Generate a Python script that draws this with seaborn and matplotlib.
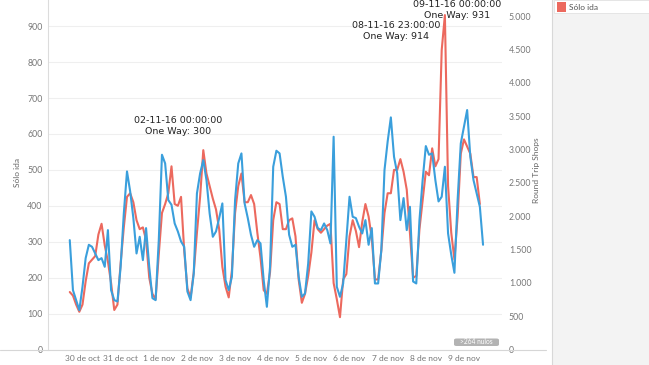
import matplotlib
matplotlib.use("Agg")
import matplotlib.pyplot as plt
import matplotlib.dates as mdates
import numpy as np
import pandas as pd
import seaborn as sns
from matplotlib.patches import FancyBboxPatch, Rectangle
from matplotlib.lines import Line2D
from matplotlib.ticker import FuncFormatter

# ---------------------------------------------------------------
# Data: 2-hour samples (30 Oct 04:00 -> 10 Nov 00:00)
# ---------------------------------------------------------------
start = "2016-10-30 04:00"

one_way = [
    160, 150, 125, 105, 125, 190, 240, 250, 260, 320, 350, 290, 245, 185, 110, 125, 240, 340, 425, 435,
    410, 360, 335, 340, 305, 200, 155, 140, 265, 380, 405, 435, 510, 405, 400, 425, 275, 170, 145, 215,
    325, 425, 555, 490,
    455, 420, 390, 335, 230, 175, 145, 220, 380, 455, 490, 410, 410, 430, 405, 325, 255, 165, 155, 215,
    360, 410, 405, 335, 335, 360, 365, 315, 195, 130, 155, 205, 270, 360, 335, 325, 335, 345, 350, 185,
    140, 90, 195,
    210, 315, 360, 330, 285, 355, 405, 370, 310, 195, 195, 275, 380, 435, 435, 500, 500, 530, 495, 445,
    325,
    200, 205, 335, 415, 495, 485, 560, 510, 530, 834, 931, 455, 325, 250, 370, 545, 585, 565, 545, 480,
    480, 405, np.nan,
]

round_trip = [
    1640, 890, 740, 590, 940, 1370, 1570, 1540, 1440, 1340, 1370, 1240, 1790, 890, 740, 720, 1240, 2040,
    2670, 2370,
    1970, 1440, 1690, 1340, 1820, 1240, 770, 740, 1640, 2920, 2790, 2240, 2170, 1890, 1770, 1620, 1540,
    870, 740, 1140, 2340, 2640, 2840, 2540,
    2040, 1690, 1770, 1970, 2190, 1040, 890, 1090, 2240, 2790, 2940, 2190, 1970, 1720, 1540, 1640, 1590,
    1040, 640, 1240,
    2740, 2980, 2940, 2590, 2290, 1720, 1540, 1570, 1090, 790, 840, 1290, 2070, 1990, 1820, 1790, 1890,
    1790, 1590, 3190, 940, 790, 990,
    1640, 2290, 1990, 1970, 1840, 1740, 1940, 1570, 1820, 990, 990, 1490, 2690, 3120, 3480, 2890, 2640,
    1940, 2270, 1790, 2140,
    1020, 990, 1940, 2540, 3050, 2920, 2940, 2540, 2220, 2290, 2740, 1740, 1420, 1150, 2240, 3090, 3340,
    3590, 2890, 2540, 2340, 2140, 1570,
]

day_labels = ["30 de oct", "31 de oct", "1 de nov", "2 de nov", "3 de nov", "4 de nov",
              "5 de nov", "6 de nov", "7 de nov", "8 de nov", "9 de nov"]

notes = [
    ("02-11-16 00:00:00\nOne Way: 300", 178, 126),
    ("08-11-16 23:00:00\nOne Way: 914", 396, 31),
    ("09-11-16 00:00:00\nOne Way: 931", 457, 10),
]

times = pd.date_range(start, periods=len(round_trip), freq="2h")
df = pd.DataFrame({"time": times, "one_way": one_way, "round_trip": round_trip})

RED = "#ec695e"
BLUE = "#3a9fdc"
W, H = 649, 365

sns.set_style("white")
plt.rcParams["font.family"] = ["Lato", "DejaVu Sans"]

fig = plt.figure(figsize=(W / 100, H / 100), dpi=100)
fig.patch.set_facecolor("white")

# right legend panel
fig.add_artist(Rectangle((552 / W, 0), 1 - 552 / W, 1, transform=fig.transFigure,
                         facecolor="#f3f3f3", edgecolor="none", zorder=0))
fig.add_artist(Line2D([552 / W, 552 / W], [0, 1], transform=fig.transFigure, color="#d8d8d8", lw=0.8))
fig.add_artist(Rectangle((554 / W, 1 - 13 / H), 1 - 554 / W, 13 / H, transform=fig.transFigure,
                         facecolor="white", edgecolor="#e2e2e2", lw=0.6, zorder=1))
fig.add_artist(Rectangle((557 / W, 1 - 11.5 / H), 9 / W, 9 / H, transform=fig.transFigure,
                         facecolor=RED, edgecolor="none", zorder=2))
fig.text(569 / W, 1 - 7 / H, "Sólo ida", fontsize=6, color="#555555", va="center", ha="left")

ax = fig.add_axes([48 / W, 15.5 / H, (502 - 48) / W, 349.5 / H])
sns.lineplot(data=df, x="time", y="one_way", ax=ax, color=RED, lw=1.5)

ax2 = ax.twinx()
sns.lineplot(data=df, x="time", y="round_trip", ax=ax2, color=BLUE, lw=1.5)

t0 = mdates.date2num(pd.Timestamp("2016-10-30"))
ax.set_xlim(t0 - 0.404, t0 + 11.497)
ax.set_ylim(0, 973)
ax2.set_ylim(0, 5240)

ax.set_yticks(range(0, 1000, 100))
ax2.set_yticks(range(0, 5001, 500))
ax2.yaxis.set_major_formatter(FuncFormatter(lambda v, p: f"{int(v):,}".replace(",", ".")))
ax.set_xticks([t0 + i + 0.5 for i in range(len(day_labels))])
ax.set_xticklabels(day_labels)

ax.yaxis.grid(True, color="#efefef", lw=0.8)
ax.set_axisbelow(True)
ax2.grid(False)

for a in (ax, ax2):
    a.set_xlabel("")
    a.set_ylabel("")
    for s in ("top", "right", "bottom"):
        a.spines[s].set_visible(False)
    a.tick_params(length=0, labelsize=6.3, labelcolor="#777777")
ax2.spines["left"].set_visible(False)
ax.spines["left"].set_color("#dcdcdc")
ax.spines["left"].set_linewidth(0.8)
ax.tick_params(axis="y", pad=4)
ax.tick_params(axis="x", pad=4, labelsize=6)
ax2.tick_params(axis="y", pad=5)

# bottom rule running under both axes
fig.add_artist(Line2D([0, 546 / W], [15.5 / H, 15.5 / H], transform=fig.transFigure, color="#d6d6d6", lw=0.8))

fig.text(17 / W, 1 - 173 / H, "Sólo ida", rotation=90, fontsize=6, color="#666666", ha="center", va="center")
fig.text(537 / W, 1 - 170 / H, "Round Trip Shops", rotation=90, fontsize=6, color="#666666",
         ha="center", va="center")

for txt, cx, cy in notes:
    fig.text(cx / W, 1 - cy / H, txt, fontsize=6.8, color="#222222", ha="center", va="center",
             linespacing=1.15, family=["DejaVu Sans"])

# null-count badge
fig.add_artist(FancyBboxPatch((454 / W, 1 - 346 / H), 45 / W, 7.5 / H, transform=fig.transFigure,
                              boxstyle="round,pad=0,rounding_size=0.004", facecolor="#b3b3b3",
                              edgecolor="none"))
fig.text(476.5 / W, 1 - 342 / H, ">264 nulos", fontsize=4.8, color="white", ha="center", va="center")

fig.savefig("out.png", dpi=100)
